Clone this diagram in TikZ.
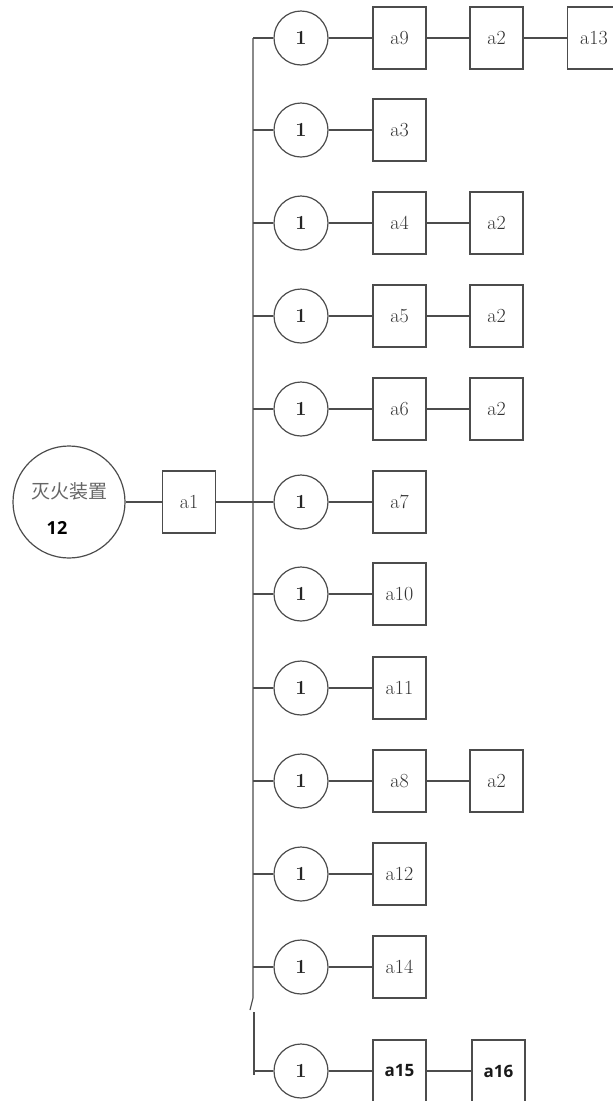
\documentclass[tikz,border=0pt]{standalone}
\usepackage{fontspec}
\newfontfamily\cjk{Noto Sans CJK SC}
\newfontfamily\bsans{Open Sans}
\begin{document}
\begin{tikzpicture}[x=1pt,y=-1pt,
  line/.style={draw=black!70,line width=1.2pt},
  circ/.style={circle,draw=black!70,line width=1.2pt,minimum size=54pt,inner sep=0pt,font=\fontsize{20}{22}\selectfont\bfseries,text=black!85},
  rbox/.style={rectangle,draw=black!70,line width=1.2pt,minimum width=53pt,minimum height=62pt,inner sep=0pt,font=\fontsize{20}{22}\selectfont,text=black!80},
  sbox/.style={rbox,font=\bsans\fontsize{17}{19}\selectfont\bfseries,text=black!90}]
\useasboundingbox (0,0) rectangle (613,1101);
% main device
\node[circle,draw=black!70,line width=1.2pt,minimum size=112pt,inner sep=0pt] (dev) at (69,502) {};
\node[font=\cjk\fontsize{19}{21}\selectfont,text=black!60] (devt) at (69.5,491) {灭火装置};
\node[font=\bsans\fontsize{18}{20}\selectfont\bfseries,text=black] (devn) at (57,528) {12};
\node[rbox] (a1) at (189,502) {a1};
\draw[line] (dev.east) -- (a1.west);
% branches
\foreach \i/\y/\t in {1/38/a9,2/130/a3,3/223/a4,4/316/a5,5/409/a6,6/502/a7,7/594/a10,8/688/a11,9/781/a8,10/874/a12,11/967/a14}{
  \coordinate (j\i) at (253,\y);
  \node[circ] (c\i) at (301,\y) {1};
  \node[rbox] (b\i) at (399.5,\y) {\t};
  \draw[line] (j\i) -- (c\i.west);
  \draw[line] (c\i.east) -- (b\i.west);
}
\coordinate (j12) at (254,1071);
\node[circ] (c12) at (301,1071) {1};
\node[sbox] (b12) at (399.5,1071) {a15};
\draw[line] (j12) -- (c12.west);
\draw[line] (c12.east) -- (b12.west);
% second boxes
\foreach \i/\y in {1/38,3/223,4/316,5/409,9/781}{
  \node[rbox] (d\i) at (496.5,\y) {a2};
  \draw[line] (b\i.east) -- (d\i.west);
}
\node[sbox] (d12) at (498.5,1071) {a16};
\draw[line] (b12.east) -- (d12.west);
\node[rbox] (e1) at (594,38) {a13};
\draw[line] (d1.east) -- (e1.west);
% bus
\coordinate (jb) at (253,998);
\coordinate (jt) at (250,1010);
\coordinate (jl) at (254,1012);
\draw[line] (j1) -- (jb) -- (jt);
\draw[line] (jl) -- (254,1075) coordinate (je);
\draw[line] (a1.east) -- (j6);
\end{tikzpicture}
\end{document}
